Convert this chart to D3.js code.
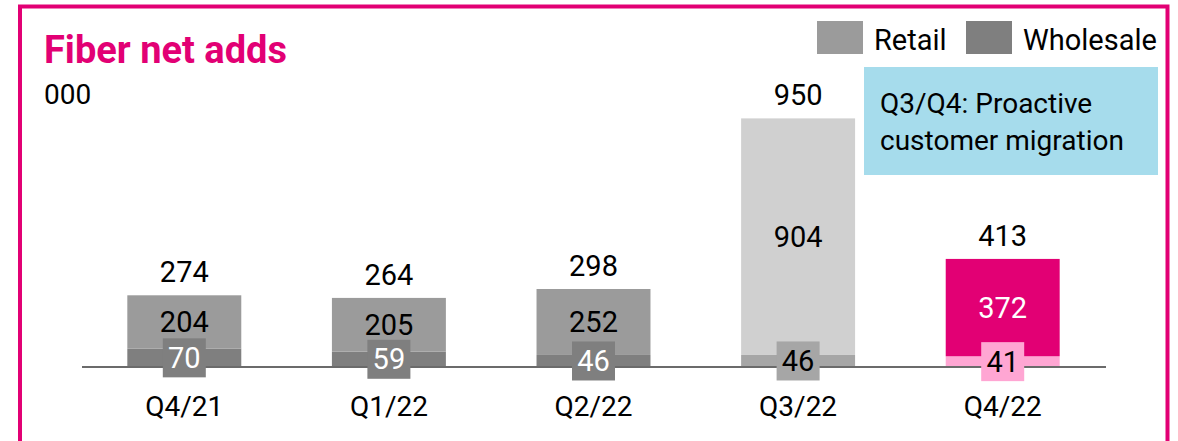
<!DOCTYPE html>
<html>
<head>
<meta charset="utf-8">
<script src="https://cdn.jsdelivr.net/npm/d3@7"></script>
<style>
  html, body { margin: 0; padding: 0; background: #fff; }
  svg { display: block; font-family: Roboto, "Open Sans", sans-serif; }
</style>
</head>
<body>
<svg id="chart" width="1178" height="441"></svg>
<script>
// Quarterly fiber net adds (thousands)
const quarters  = ["Q4/21", "Q1/22", "Q2/22", "Q3/22", "Q4/22"];
const retail    = [204, 205, 252, 904, 372];
const wholesale = [70, 59, 46, 46, 41];
const totals    = [274, 264, 298, 950, 413];

// Per-bar palette: standard greys, light greys for Q3, magenta for Q4/22
const retailFill    = ["#9b9b9b", "#9b9b9b", "#9b9b9b", "#d0d0d0", "#e20074"];
const wholesaleFill = ["#7f7f7f", "#7f7f7f", "#7f7f7f", "#a6a6a6", "#ffa6d3"];
const retailText    = ["#000", "#000", "#000", "#000", "#fff"];
const wholesaleText = ["#fff", "#fff", "#fff", "#000", "#000"];

const svg = d3.select("#chart");
const magenta = "#e20074";

// Frame
svg.append("path")
  .attr("d", "M20,450 L20,6.5 L1167.5,6.5 L1167.5,450")
  .attr("fill", "none").attr("stroke", magenta).attr("stroke-width", 4);

// Title and unit
svg.append("text").attr("x", 44).attr("y", 63)
  .attr("fill", magenta).attr("font-size", 38).attr("font-weight", 700)
  .text("Fiber net adds");
svg.append("text").attr("x", 44).attr("y", 104)
  .attr("fill", "#000").attr("font-size", 28)
  .text("000");

// Scales
const baseline = 367;
const x = d3.scaleBand().domain(quarters).range([82, 1105])
  .paddingInner(0.443).paddingOuter(0.2215);
const y = d3.scaleLinear().domain([0, 1000]).range([baseline, 105.3]);

const rows = quarters.map((q, i) => ({
  q, i, r: retail[i], w: wholesale[i], t: totals[i]
}));

const g = svg.append("g");

// Wholesale segment (bottom)
g.selectAll("rect.w").data(rows).join("rect")
  .attr("class", "w")
  .attr("x", d => x(d.q)).attr("width", x.bandwidth())
  .attr("y", d => y(d.w)).attr("height", d => y(0) - y(d.w))
  .attr("fill", d => wholesaleFill[d.i]);

// Retail segment (stacked on top)
g.selectAll("rect.r").data(rows).join("rect")
  .attr("class", "r")
  .attr("x", d => x(d.q)).attr("width", x.bandwidth())
  .attr("y", d => y(d.w + d.r)).attr("height", d => y(d.w) - y(d.w + d.r))
  .attr("fill", d => retailFill[d.i]);

// Baseline
g.append("line")
  .attr("x1", 82).attr("x2", 1106)
  .attr("y1", baseline).attr("y2", baseline)
  .attr("stroke", "#6b6b6b").attr("stroke-width", 2);

const cx = d => x(d.q) + x.bandwidth() / 2;

// Total labels above bars
g.selectAll("text.t").data(rows).join("text")
  .attr("class", "t")
  .attr("x", cx).attr("y", d => y(d.t) - 13)
  .attr("text-anchor", "middle").attr("font-size", 29).attr("fill", "#000")
  .text(d => d.t);

// Retail labels centred in segment
g.selectAll("text.r").data(rows).join("text")
  .attr("class", "r")
  .attr("x", cx).attr("y", d => (y(d.w) + y(d.w + d.r)) / 2)
  .attr("dy", "0.35em")
  .attr("text-anchor", "middle").attr("font-size", 29)
  .attr("fill", d => retailText[d.i])
  .text(d => d.r);

// Wholesale labels in boxes (drawn over the baseline)
const boxW = 43, boxH = 39;
g.selectAll("rect.wb").data(rows).join("rect")
  .attr("class", "wb")
  .attr("x", d => cx(d) - boxW / 2)
  .attr("y", d => (y(0) + y(d.w)) / 2 - boxH / 2)
  .attr("width", boxW).attr("height", boxH)
  .attr("fill", d => wholesaleFill[d.i]);
g.selectAll("text.w").data(rows).join("text")
  .attr("class", "w")
  .attr("x", cx).attr("y", d => (y(0) + y(d.w)) / 2)
  .attr("dy", "0.35em")
  .attr("text-anchor", "middle").attr("font-size", 29)
  .attr("fill", d => wholesaleText[d.i])
  .text(d => d.w);

// Category axis labels
g.selectAll("text.q").data(rows).join("text")
  .attr("class", "q")
  .attr("x", cx).attr("y", 416)
  .attr("text-anchor", "middle").attr("font-size", 28).attr("fill", "#000")
  .text(d => d.q);

// Legend
const legend = [
  { label: "Retail", color: "#9b9b9b", x: 817 },
  { label: "Wholesale", color: "#7f7f7f", x: 966 }
];
const lg = svg.append("g");
lg.selectAll("rect").data(legend).join("rect")
  .attr("x", d => d.x).attr("y", 21).attr("width", 46).attr("height", 33)
  .attr("fill", d => d.color);
lg.selectAll("text").data(legend).join("text")
  .attr("x", d => d.x + 57).attr("y", 50)
  .attr("font-size", 29).attr("fill", "#000")
  .text(d => d.label);

// Annotation box
svg.append("rect")
  .attr("x", 864).attr("y", 67).attr("width", 294).attr("height", 108)
  .attr("fill", "#a6dcec");
const note = svg.append("text").attr("font-size", 28).attr("fill", "#000");
note.append("tspan").attr("x", 880).attr("y", 113).text("Q3/Q4: Proactive");
note.append("tspan").attr("x", 880).attr("y", 150).text("customer migration");
</script>
</body>
</html>
